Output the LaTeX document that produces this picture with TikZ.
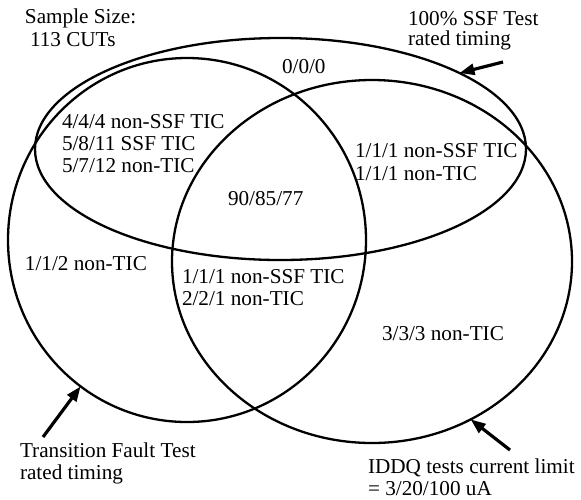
\documentclass[tikz,border=0pt]{standalone}
\usepackage{fontspec}
\setmainfont{Liberation Serif}
\usetikzlibrary{shapes.geometric,arrows.meta}
\begin{document}
\begin{tikzpicture}[x=0.5pt,y=-0.5pt,
  testset/.style={draw, ellipse, line width=1.15pt, inner sep=0pt, outer sep=0pt},
  lbl/.style={anchor=base west, inner sep=0pt, outer sep=0pt, font=\fontsize{10.6}{11}\selectfont},
  pointer/.style={line width=1.6pt, -{Triangle[length=7.5pt,width=5.5pt]}}]
\useasboundingbox (0,0) rectangle (581,499);

% the three test sets
\node[testset, minimum width=245.5pt, minimum height=111pt] (ssf) at (280.5,149) {};
\node[testset, minimum width=179pt, minimum height=182pt] (tf) at (187,240) {};
\node[testset, minimum width=200pt, minimum height=181.5pt] (iddq) at (372,261.5) {};

% captions
\node[lbl] (size1) at (25,23) {Sample Size:};
\node[lbl] (size2) at (30,46) {113 CUTs};
\node[lbl] (ssfcap1) at (408,25) {100\% SSF Test};
\node[lbl] (ssfcap2) at (408,45) {rated timing};
\node[lbl] (tfcap1) at (20,457) {Transition Fault Test};
\node[lbl] (tfcap2) at (20,479) {rated timing};
\node[lbl] (iddqcap1) at (368,473) {IDDQ tests current limit};
\node[lbl] (iddqcap2) at (368,495) {= 3/20/100 uA};

% region counts
\node[lbl] (r0) at (282,73) {0/0/0};
\node[lbl] (ra1) at (62,128) {4/4/4 non-SSF TIC};
\node[lbl] (ra2) at (62,150) {5/8/11 SSF TIC};
\node[lbl] (ra3) at (62,172) {5/7/12 non-TIC};
\node[lbl] (rall) at (228,205) {90/85/77};
\node[lbl] (rac1) at (355,157) {1/1/1 non-SSF TIC};
\node[lbl] (rac2) at (355,180) {1/1/1 non-TIC};
\node[lbl] (rb) at (25,270) {1/1/2 non-TIC};
\node[lbl] (rbc1) at (182,283) {1/1/1 non-SSF TIC};
\node[lbl] (rbc2) at (182,305) {2/2/1 non-TIC};
\node[lbl] (rc) at (382,340) {3/3/3 non-TIC};

% pointers from captions to their sets
\coordinate (ssftail) at (503,62);
\coordinate (tftail) at (43,437);
\coordinate (iddqtail) at (510,450);
\draw[pointer] (ssftail) -- (ssf.23);
\draw[pointer] (tftail) -- (tf.234);
\draw[pointer] (iddqtail) -- (iddq.302);
\end{tikzpicture}
\end{document}
